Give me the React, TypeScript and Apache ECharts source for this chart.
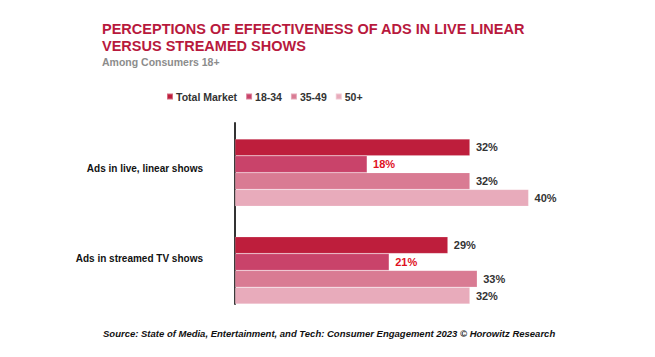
import React, { useEffect, useRef } from "react";
import * as echarts from "echarts";

const categories = ["Ads in live, linear shows", "Ads in streamed TV shows"];
const seriesNames = ["Total Market", "18-34", "35-49", "50+"];
const totalMarket = [32, 29];
const age1834 = [18, 21];
const age3549 = [32, 33];
const age50plus = [40, 32];
const seriesValues = [totalMarket, age1834, age3549, age50plus];
const colors = ["#be1e3c", "#c9436a", "#d97b93", "#e8abbb"];
const labelColors = ["#333333", "#e0101e", "#333333", "#333333"];

export default function App() {
  const ref = useRef<HTMLDivElement>(null);
  useEffect(() => {
    if (!ref.current) return;
    const chart = echarts.init(ref.current, null, { renderer: "svg" });
    const xMax = 50;
    const plotLeft = 235;
    const plotWidth = 7.34 * xMax;
    chart.setOption({
      animation: false,
      backgroundColor: "#ffffff",
      title: [
        {
          text: "PERCEPTIONS OF EFFECTIVENESS OF ADS IN LIVE LINEAR\nVERSUS STREAMED SHOWS",
          left: 97,
          top: 16,
          textStyle: { fontFamily: "Liberation Sans", fontSize: 14.5, fontWeight: "bold", color: "#b8193d", lineHeight: 16.5 },
        },
        {
          text: "Among Consumers 18+",
          left: 97,
          top: 51,
          textStyle: { fontFamily: "Liberation Sans", fontSize: 10.5, fontWeight: "bold", color: "#8c8c8c" },
        },
        {
          text: "Source: State of Media, Entertainment, and Tech: Consumer Engagement 2023 © Horowitz Research",
          left: 98,
          top: 323,
          textStyle: { fontFamily: "Liberation Sans", fontSize: 9.5, fontWeight: "bold", fontStyle: "italic", color: "#111111" },
        },
      ],
      legend: {
        left: 161,
        top: 86,
        icon: "rect",
        itemWidth: 6,
        itemHeight: 6,
        itemGap: 8,
        textStyle: { fontFamily: "Liberation Sans", fontSize: 10.5, fontWeight: "bold", color: "#333333", padding: [0, 0, 0, -2] },
        data: seriesNames,
      },
      grid: [
        { left: plotLeft, width: plotWidth, top: 123, height: 181 },
        { left: plotLeft, width: plotWidth, top: 123.75, height: 195.5 },
      ],
      xAxis: [
        { type: "value", gridIndex: 0, min: 0, max: xMax, show: false },
        { type: "value", gridIndex: 1, min: 0, max: xMax, show: false },
      ],
      yAxis: [
        {
          type: "category",
          gridIndex: 0,
          data: categories,
          inverse: true,
          axisLine: { show: true, lineStyle: { color: "#333333", width: 2 } },
          axisTick: { show: false },
          axisLabel: { margin: 32, fontFamily: "Liberation Sans", fontSize: 10, fontWeight: "bold", color: "#111111" },
        },
        {
          type: "category",
          gridIndex: 1,
          data: categories,
          inverse: true,
          show: false,
        },
      ],
      series: seriesNames.map((name, i) => ({
        name,
        type: "bar",
        xAxisIndex: 1,
        yAxisIndex: 1,
        data: seriesValues[i],
        barGap: "0%",
        barCategoryGap: "31.3%",
        itemStyle: { color: colors[i], borderColor: "rgba(255,255,255,0.35)", borderWidth: 0.5 },
        label: {
          show: true,
          position: "right",
          distance: 6,
          formatter: "{c}%",
          fontFamily: "Liberation Sans",
          fontSize: 11,
          fontWeight: "bold",
          color: labelColors[i],
        },
      })),
    });
    return () => chart.dispose();
  }, []);
  return <div ref={ref} style={{ width: 655, height: 357, position: "absolute", left: 0, top: 0 }} />;
}
